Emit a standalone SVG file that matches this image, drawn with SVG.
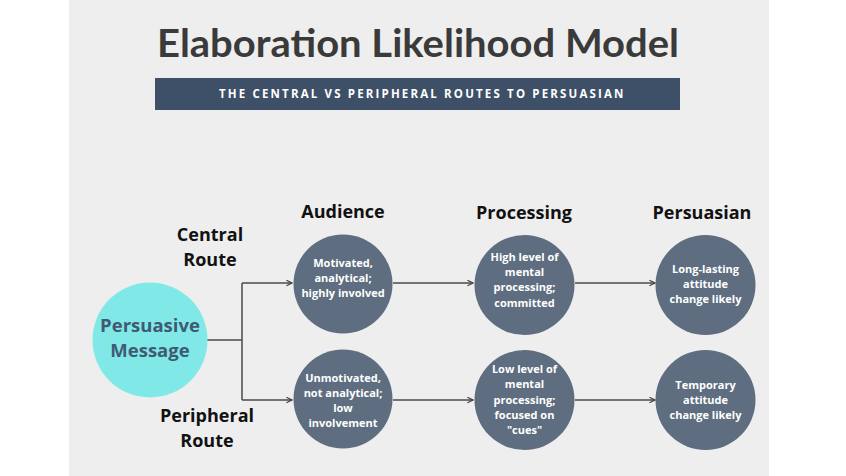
<svg xmlns="http://www.w3.org/2000/svg" width="846" height="476" viewBox="0 0 846 476">
  <defs>
    <marker id="arrow" viewBox="0 0 10 10" refX="9" refY="5" markerWidth="7" markerHeight="7" markerUnits="userSpaceOnUse" orient="auto">
      <path d="M1,1 L9,5 L1,9" fill="none" stroke="#444444" stroke-width="1.6"/>
    </marker>
  </defs>
  <style>
    .node { fill: #5e6e80; }
    .ctext { font-family: "Open Sans", "DejaVu Sans", sans-serif; font-weight: 700; font-size: 11px; fill: #ffffff; text-anchor: middle; }
    .head { font-family: "Open Sans", "DejaVu Sans", sans-serif; font-weight: 700; font-size: 18px; fill: #111111; text-anchor: middle; }
    .conn { fill: none; stroke: #4a4a4a; stroke-width: 1.5; }
  </style>
  <rect x="0" y="0" width="846" height="476" fill="#ffffff"/>
  <rect x="69" y="0" width="700" height="476" fill="#eeeeee"/>

  <g id="title">
    <text x="418" y="57" font-family="Lato, 'Open Sans', sans-serif" font-weight="700" font-size="39" fill="#3a3a3a" text-anchor="middle" textLength="522" lengthAdjust="spacingAndGlyphs">Elaboration Likelihood Model</text>
  </g>
  <g id="banner">
    <rect x="155" y="78" width="525" height="32" fill="#3e5068"/>
    <text x="422" y="98" font-family="'Open Sans', sans-serif" font-weight="700" font-size="11.5" fill="#ffffff" text-anchor="middle" letter-spacing="1.6" textLength="406" lengthAdjust="spacing">THE CENTRAL VS PERIPHERAL ROUTES TO PERSUASIAN</text>
  </g>

  <g id="headings">
    <text class="head" x="343" y="218">Audience</text>
    <text class="head" x="524" y="219">Processing</text>
    <text class="head" x="702" y="219">Persuasian</text>
    <text class="head" x="210" y="241">Central</text>
    <text class="head" x="210" y="266">Route</text>
    <text class="head" x="207" y="422">Peripheral</text>
    <text class="head" x="207" y="447">Route</text>
  </g>

  <g id="connectors">
    <path class="conn" d="M207,340 H242"/>
    <path class="conn" d="M242,283 V400"/>
    <path class="conn" d="M242,283 H292" marker-end="url(#arrow)"/>
    <path class="conn" d="M242,400 H292" marker-end="url(#arrow)"/>
    <path class="conn" d="M393,283 H473" marker-end="url(#arrow)"/>
    <path class="conn" d="M393,400 H473" marker-end="url(#arrow)"/>
    <path class="conn" d="M575,283 H655" marker-end="url(#arrow)"/>
    <path class="conn" d="M575,400 H655" marker-end="url(#arrow)"/>
  </g>

  <g id="persuasive-message">
    <circle cx="150" cy="340" r="57.5" fill="#80e9e8"/>
    <text x="150" y="332" font-family="'Open Sans', sans-serif" font-weight="700" font-size="18.5" fill="#3f5a72" text-anchor="middle">Persuasive</text>
    <text x="150" y="357" font-family="'Open Sans', sans-serif" font-weight="700" font-size="18.5" fill="#3f5a72" text-anchor="middle">Message</text>
  </g>

  <g id="audience-central">
    <circle class="node" cx="343" cy="284" r="49.5"/>
    <text class="ctext" x="343" y="267">Motivated,</text>
    <text class="ctext" x="343" y="282">analytical;</text>
    <text class="ctext" x="343" y="297">highly involved</text>
  </g>
  <g id="audience-peripheral">
    <circle class="node" cx="343" cy="399" r="49.5"/>
    <text class="ctext" x="343" y="382">Unmotivated,</text>
    <text class="ctext" x="343" y="397">not analytical;</text>
    <text class="ctext" x="343" y="412">low</text>
    <text class="ctext" x="343" y="427">involvement</text>
  </g>
  <g id="processing-central">
    <circle class="node" cx="524.5" cy="285" r="50"/>
    <text class="ctext" x="524.5" y="261">High level of</text>
    <text class="ctext" x="524.5" y="276">mental</text>
    <text class="ctext" x="524.5" y="291">processing;</text>
    <text class="ctext" x="524.5" y="307">committed</text>
  </g>
  <g id="processing-peripheral">
    <circle class="node" cx="524.5" cy="400" r="50"/>
    <text class="ctext" x="524.5" y="373">Low level of</text>
    <text class="ctext" x="524.5" y="388">mental</text>
    <text class="ctext" x="524.5" y="404">processing;</text>
    <text class="ctext" x="524.5" y="419">focused on</text>
    <text class="ctext" x="524.5" y="434">"cues"</text>
  </g>
  <g id="persuasian-central">
    <circle class="node" cx="705.5" cy="285" r="50"/>
    <text class="ctext" x="705.5" y="273">Long-lasting</text>
    <text class="ctext" x="705.5" y="288">attitude</text>
    <text class="ctext" x="705.5" y="303">change likely</text>
  </g>
  <g id="persuasian-peripheral">
    <circle class="node" cx="705.5" cy="400" r="50"/>
    <text class="ctext" x="705.5" y="389">Temporary</text>
    <text class="ctext" x="705.5" y="404">attitude</text>
    <text class="ctext" x="705.5" y="419">change likely</text>
  </g>
</svg>
